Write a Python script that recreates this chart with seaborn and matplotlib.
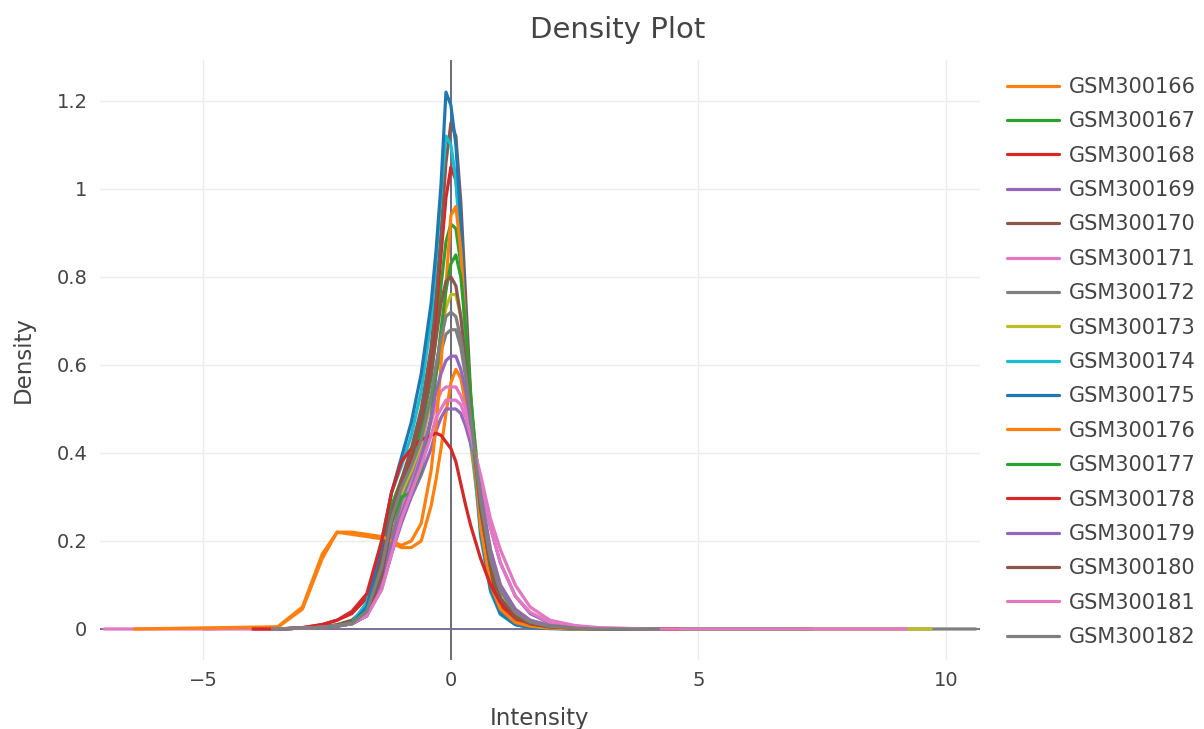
import matplotlib
matplotlib.use("Agg")
import matplotlib.pyplot as plt
import pandas as pd
import seaborn as sns

# ---------------- data ----------------
SAMPLES = ["GSM300166", "GSM300167", "GSM300168", "GSM300169", "GSM300170",
           "GSM300171", "GSM300172", "GSM300173", "GSM300174", "GSM300175",
           "GSM300176", "GSM300177", "GSM300178", "GSM300179", "GSM300180",
           "GSM300181", "GSM300182"]
COLORS = ["#ff7f0e", "#2ca02c", "#d62728", "#9467bd", "#8c564b",
          "#e377c2", "#7f7f7f", "#bcbd22", "#17becf", "#1f77b4",
          "#ff7f0e", "#2ca02c", "#d62728", "#9467bd", "#8c564b",
          "#e377c2", "#7f7f7f"]

# common intensity grid on which the densities were read
X_GRID = [-3.5, -3.0, -2.6, -2.3, -2.0, -1.7, -1.4, -1.2, -1.0, -0.8,
          -0.6, -0.4, -0.3, -0.2, -0.1, 0.0, 0.1, 0.2, 0.3, 0.4,
          0.6, 0.8, 1.0, 1.3, 1.6, 2.0, 2.5, 3.0, 4.0]

D166 = [0.004, 0.045, 0.16, 0.22, 0.215, 0.21, 0.205, 0.195, 0.185, 0.185, 0.20, 0.28, 0.34, 0.41, 0.49, 0.56, 0.59, 0.57, 0.51, 0.42, 0.24, 0.12, 0.06, 0.022, 0.009, 0.003, 0.001, 0, 0]
D167 = [0, 0.002, 0.005, 0.008, 0.015, 0.05, 0.17, 0.28, 0.34, 0.38, 0.45, 0.57, 0.67, 0.78, 0.88, 0.92, 0.91, 0.83, 0.68, 0.51, 0.26, 0.13, 0.06, 0.024, 0.01, 0.004, 0.001, 0, 0]
D168 = [0, 0.003, 0.01, 0.02, 0.035, 0.07, 0.16, 0.25, 0.32, 0.39, 0.48, 0.61, 0.72, 0.85, 0.98, 1.05, 1.02, 0.90, 0.71, 0.51, 0.24, 0.11, 0.05, 0.018, 0.007, 0.003, 0.001, 0, 0]
D169 = [0, 0.002, 0.004, 0.007, 0.012, 0.03, 0.09, 0.17, 0.24, 0.30, 0.35, 0.41, 0.45, 0.48, 0.50, 0.50, 0.50, 0.49, 0.46, 0.42, 0.33, 0.23, 0.15, 0.075, 0.035, 0.013, 0.004, 0.001, 0]
D170 = [0, 0.002, 0.005, 0.01, 0.02, 0.05, 0.15, 0.26, 0.34, 0.41, 0.50, 0.64, 0.76, 0.90, 1.06, 1.15, 1.12, 0.97, 0.75, 0.53, 0.23, 0.10, 0.04, 0.013, 0.005, 0.002, 0, 0, 0]
D171 = [0, 0.002, 0.004, 0.007, 0.012, 0.03, 0.10, 0.19, 0.27, 0.33, 0.40, 0.47, 0.51, 0.54, 0.55, 0.55, 0.55, 0.53, 0.50, 0.45, 0.34, 0.23, 0.15, 0.075, 0.038, 0.015, 0.005, 0.002, 0]
D172 = [0, 0.002, 0.004, 0.007, 0.012, 0.03, 0.11, 0.21, 0.29, 0.35, 0.42, 0.52, 0.58, 0.63, 0.67, 0.68, 0.68, 0.64, 0.57, 0.48, 0.30, 0.17, 0.09, 0.04, 0.018, 0.007, 0.003, 0.001, 0]
D173 = [0, 0.002, 0.004, 0.007, 0.012, 0.035, 0.13, 0.24, 0.31, 0.36, 0.42, 0.52, 0.59, 0.67, 0.73, 0.76, 0.76, 0.71, 0.62, 0.51, 0.31, 0.18, 0.10, 0.045, 0.02, 0.008, 0.002, 0.001, 0]
D174 = [0, 0.002, 0.004, 0.007, 0.014, 0.06, 0.20, 0.31, 0.37, 0.44, 0.54, 0.70, 0.84, 0.99, 1.12, 1.10, 1.02, 0.86, 0.65, 0.46, 0.21, 0.085, 0.033, 0.01, 0.003, 0.001, 0, 0, 0]
D175 = [0, 0.002, 0.004, 0.006, 0.012, 0.05, 0.19, 0.31, 0.39, 0.47, 0.58, 0.74, 0.86, 1.01, 1.22, 1.19, 1.10, 0.93, 0.70, 0.50, 0.22, 0.09, 0.035, 0.01, 0.003, 0.001, 0, 0, 0]
D176 = [0.005, 0.05, 0.17, 0.22, 0.22, 0.215, 0.21, 0.20, 0.19, 0.20, 0.24, 0.36, 0.46, 0.60, 0.78, 0.94, 0.96, 0.86, 0.68, 0.49, 0.23, 0.10, 0.045, 0.015, 0.006, 0.002, 0, 0, 0]
D177 = [0, 0.002, 0.005, 0.008, 0.014, 0.04, 0.14, 0.24, 0.30, 0.31, 0.36, 0.48, 0.58, 0.68, 0.77, 0.83, 0.85, 0.80, 0.68, 0.53, 0.28, 0.14, 0.07, 0.028, 0.012, 0.005, 0.002, 0, 0]
D178 = [0, 0.003, 0.01, 0.02, 0.04, 0.08, 0.20, 0.31, 0.38, 0.41, 0.43, 0.44, 0.445, 0.44, 0.425, 0.41, 0.38, 0.33, 0.28, 0.235, 0.16, 0.10, 0.06, 0.028, 0.012, 0.005, 0.002, 0.001, 0]
D179 = [0, 0.002, 0.004, 0.007, 0.012, 0.03, 0.10, 0.19, 0.26, 0.32, 0.39, 0.48, 0.54, 0.58, 0.61, 0.62, 0.62, 0.59, 0.54, 0.47, 0.31, 0.18, 0.10, 0.045, 0.02, 0.008, 0.003, 0, 0]
D180 = [0, 0.002, 0.004, 0.007, 0.012, 0.03, 0.12, 0.24, 0.33, 0.40, 0.47, 0.58, 0.66, 0.74, 0.79, 0.80, 0.78, 0.71, 0.60, 0.48, 0.27, 0.14, 0.07, 0.03, 0.013, 0.005, 0.002, 0, 0]
D181 = [0, 0.002, 0.004, 0.007, 0.012, 0.03, 0.09, 0.17, 0.25, 0.31, 0.37, 0.44, 0.48, 0.50, 0.52, 0.52, 0.52, 0.51, 0.48, 0.44, 0.35, 0.25, 0.18, 0.10, 0.05, 0.02, 0.008, 0.003, 0]
D182 = [0, 0.002, 0.004, 0.007, 0.012, 0.04, 0.14, 0.25, 0.32, 0.37, 0.43, 0.53, 0.60, 0.66, 0.71, 0.72, 0.71, 0.66, 0.58, 0.48, 0.29, 0.16, 0.085, 0.037, 0.016, 0.006, 0.002, 0, 0]

DENSITIES = [D166, D167, D168, D169, D170, D171, D172, D173, D174, D175,
             D176, D177, D178, D179, D180, D181, D182]

# extent of each density curve (where it is ~0)
X_START = [-5.0, -3.6, -4.0, -3.6, -3.6, -7.0, -3.6, -3.6, -3.6, -3.6,
           -6.4, -3.6, -4.0, -3.6, -3.6, -3.6, -3.6]
X_END = [4.2, 4.2, 4.2, 4.2, 4.2, 4.2, 10.6, 9.7, 4.2, 4.2,
         4.2, 7.3, 4.6, 4.2, 4.2, 9.2, 4.2]

X_TICKS = [-5, 0, 5, 10]
Y_TICKS = [0, 0.2, 0.4, 0.6, 0.8, 1, 1.2]
Y_TICK_LABELS = ["0", "0.2", "0.4", "0.6", "0.8", "1", "1.2"]

# ---------------- build long table ----------------
rows = []
for name, vals, x0, x1 in zip(SAMPLES, DENSITIES, X_START, X_END):
    xs = [x0] + X_GRID + [x1]
    ys = [0.0] + vals + [0.0]
    for i, (xv, yv) in enumerate(zip(xs, ys)):
        rows.append({"sample": name, "order": i, "Intensity": xv, "Density": yv})
df = pd.DataFrame(rows)

# ---------------- plot ----------------
sns.set_theme(style="white")
plt.rcParams["font.family"] = ["DejaVu Sans"]

fig = plt.figure(figsize=(12.04, 7.29), dpi=100)
ax = fig.add_axes([100 / 1204, 69 / 729, 880 / 1204, 600 / 729])

ax.grid(True, color="#ececec", linewidth=1.0)
ax.set_axisbelow(True)
ax.axvline(0, color="#6b6b7e", linewidth=1.4, zorder=1.5)
ax.axhline(0, color="#7a6f96", linewidth=1.4, zorder=1.5)

sns.lineplot(data=df, x="Intensity", y="Density", hue="sample",
             hue_order=SAMPLES, palette=COLORS, sort=False, estimator=None,
             units="sample", linewidth=2.3, ax=ax, zorder=2)

ax.set_xlim(-7.09, 10.69)
ax.set_ylim(-0.0705, 1.293)
ax.set_xticks(X_TICKS)
ax.set_yticks(Y_TICKS)
ax.set_yticklabels(Y_TICK_LABELS)
ax.tick_params(axis="both", length=0, labelsize=14, labelcolor="#444444")
ax.tick_params(axis="y", pad=9)
ax.tick_params(axis="x", pad=8)
for s in ax.spines.values():
    s.set_visible(False)

ax.set_xlabel("Intensity", fontsize=16.5, color="#444444", labelpad=12)
ax.set_ylabel("Density", fontsize=16.5, color="#444444", labelpad=16)
fig.text(618 / 1204, 1 - 30 / 729, "Density Plot", fontsize=21,
         color="#444444", ha="center", va="center")

handles, labels = ax.get_legend_handles_labels()
ax.get_legend().remove()
leg = fig.legend(handles, labels, loc="upper left",
                 bbox_to_anchor=(1007 / 1204, 1 - 77 / 729),
                 frameon=False, fontsize=15, handlelength=2.5,
                 handletextpad=0.45, labelspacing=0.69, borderpad=0,
                 borderaxespad=0)
for t in leg.get_texts():
    t.set_color("#444444")
for h in leg.get_lines():
    h.set_linewidth(2.3)

fig.savefig("out.png", dpi=100)
